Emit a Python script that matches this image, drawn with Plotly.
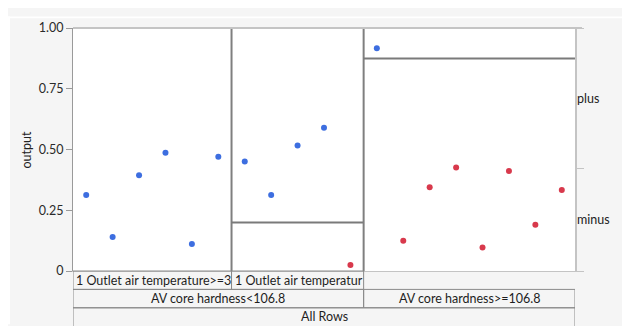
import plotly.graph_objects as go

# ---------------- data ----------------
row_class = ["plus"] * 6 + ["plus"] * 4 + ["minus"] + ["plus"] + ["minus"] * 7
row_output = [0.313, 0.140, 0.394, 0.487, 0.111, 0.470,
              0.451, 0.313, 0.516, 0.590, 0.025,
              0.917, 0.124, 0.345, 0.426, 0.097, 0.412, 0.190, 0.333]

leaf_labels = ["1 Outlet air temperature>=3", "1 Outlet air temperatur", ""]
leaf_counts = [6, 5, 8]

split_labels = ["AV core hardness<106.8", "AV core hardness>=106.8"]
split_counts = [11, 8]

root_label = "All Rows"
levels = ["plus", "minus"]
level_colors = {"plus": "#3d6ee0", "minus": "#d8394c"}

# ---------------- layout constants ----------------
OFF = 8                      # page body margin
W, H = 630 - OFF, 326 - OFF  # figure size
PL, PR, PT, PB = 73, 575, 20, 271   # plot area in page pixels
ML, MR, MT, MB = PL - OFF, W - (PR - OFF), PT - OFF, H - (PB - OFF)
PW = PR - PL
PH = PB - PT
N = len(row_output)
px_per_row = PW / N

def py(page_y):
    return (PB - page_y) / PH

def pxp(page_x):
    return (page_x - PL) / PW

FONT = "Segoe UI, Lato, Noto Sans, sans-serif"
FS = 12.5
BG = "#f5f5f5"

fig = go.Figure()

xs = [i + 0.5 for i in range(N)]
for lvl in levels:
    idx = [i for i in range(N) if row_class[i] == lvl]
    fig.add_trace(go.Scatter(
        x=[xs[i] for i in idx], y=[row_output[i] for i in idx],
        mode="markers", marker=dict(color=level_colors[lvl], size=6),
        name=lvl, showlegend=False, hoverinfo="skip"))

# invisible trace to anchor the right axis
fig.add_trace(go.Scatter(x=[0], y=[0], yaxis="y2", mode="markers",
                         marker=dict(opacity=0), showlegend=False, hoverinfo="skip"))

shapes = []
annotations = []

# leaf dividers and split lines
start = 0
for k, n in enumerate(leaf_counts):
    cls = row_class[start:start + n]
    minus_rate = cls.count("minus") / n
    if start > 0:
        shapes.append(dict(type="line", xref="x", yref="y", x0=start, x1=start,
                           y0=0, y1=1, line=dict(color="#7f7f7f", width=2)))
    if minus_rate > 0:
        shapes.append(dict(type="line", xref="x", yref="y", x0=start, x1=start + n,
                           y0=minus_rate, y1=minus_rate, line=dict(color="#7a7a7a", width=2)))
    start += n

# top border
shapes.append(dict(type="line", xref="paper", yref="paper", x0=0, x1=pxp(582),
                   y0=1, y1=1, line=dict(color="#c4c4c4", width=2)))

# thin white strips at top and left
shapes.append(dict(type="rect", xref="paper", yref="paper", x0=pxp(OFF), x1=pxp(OFF + W),
                   y0=py(10), y1=py(OFF), fillcolor="white", line=dict(width=0), layer="below"))
shapes.append(dict(type="rect", xref="paper", yref="paper", x0=pxp(OFF), x1=pxp(10),
                   y0=py(OFF + H), y1=py(OFF), fillcolor="white", line=dict(width=0), layer="below"))

# label boxes below the plot
box_line = dict(color="#8a8a8a", width=1)
row_tops = [PB, 290, 309, 340]
row_centers = [280.5, 299.5, 318.5]

def add_row(labels, counts, r, align):
    s = 0
    for lab, n in zip(labels, counts):
        if lab:
            shapes.append(dict(type="rect", xref="x", yref="paper", x0=s, x1=s + n,
                               y0=py(row_tops[r + 1]), y1=py(row_tops[r]),
                               line=box_line, fillcolor="rgba(0,0,0,0)"))
            ycen = py(row_centers[r])
            if align == "left":
                annotations.append(dict(text=lab, xref="x", yref="paper", x=s, y=ycen,
                                        xanchor="left", yanchor="middle", showarrow=False,
                                        align="left", width=n * px_per_row - 3, xshift=1,
                                        font=dict(family=FONT, size=FS, color="#1e1e1e")))
            else:
                annotations.append(dict(text=lab, xref="x", yref="paper", x=s + n / 2, y=ycen,
                                        xanchor="center", yanchor="middle", showarrow=False,
                                        font=dict(family=FONT, size=FS, color="#1e1e1e")))
        s += n

add_row(leaf_labels, leaf_counts, 0, "left")
add_row(split_labels, split_counts, 1, "center")
add_row([root_label], [N], 2, "center")

# right axis level labels
minus_share = row_class.count("minus") / N
annotations.append(dict(text="plus", xref="paper", yref="y", x=1, y=(1 + minus_share) / 2,
                        xanchor="left", yanchor="middle", showarrow=False, xshift=0,
                        font=dict(family=FONT, size=FS, color="#222")))
annotations.append(dict(text="minus", xref="paper", yref="y", x=1, y=minus_share / 2,
                        xanchor="left", yanchor="middle", showarrow=False, xshift=0,
                        font=dict(family=FONT, size=FS, color="#222")))

# y title
annotations.append(dict(text="output", xref="paper", yref="paper", x=pxp(26), y=0.5,
                        xanchor="center", yanchor="middle", showarrow=False, textangle=-90,
                        font=dict(family=FONT, size=FS, color="#222")))

fig.update_layout(
    width=W, height=H,
    margin=dict(l=ML, r=MR, t=MT, b=MB),
    paper_bgcolor=BG, plot_bgcolor="white",
    xaxis=dict(range=[0, N], showgrid=False, zeroline=False, showticklabels=False,
               showline=True, linecolor="#c4c4c4", linewidth=1, ticks=""),
    yaxis=dict(range=[0, 1], tickvals=[0, 0.25, 0.5, 0.75, 1],
               ticktext=["0", "0.25", "0.50", "0.75", "1.00"],
               showgrid=False, zeroline=False, showline=True, linecolor="#9a9a9a",
               linewidth=1, ticks="outside", ticklen=6, tickcolor="#9a9a9a",
               tickfont=dict(family=FONT, size=FS, color="#2a2a2a")),
    yaxis2=dict(range=[0, 1], overlaying="y", side="right", tickvals=[0, minus_share, 1],
                showticklabels=False, showgrid=False, zeroline=False, showline=True,
                linecolor="#c4c4c4", linewidth=2, ticks="outside", ticklen=7,
                tickcolor="#c4c4c4"),
    shapes=shapes, annotations=annotations,
)

fig.write_html("out.html")
